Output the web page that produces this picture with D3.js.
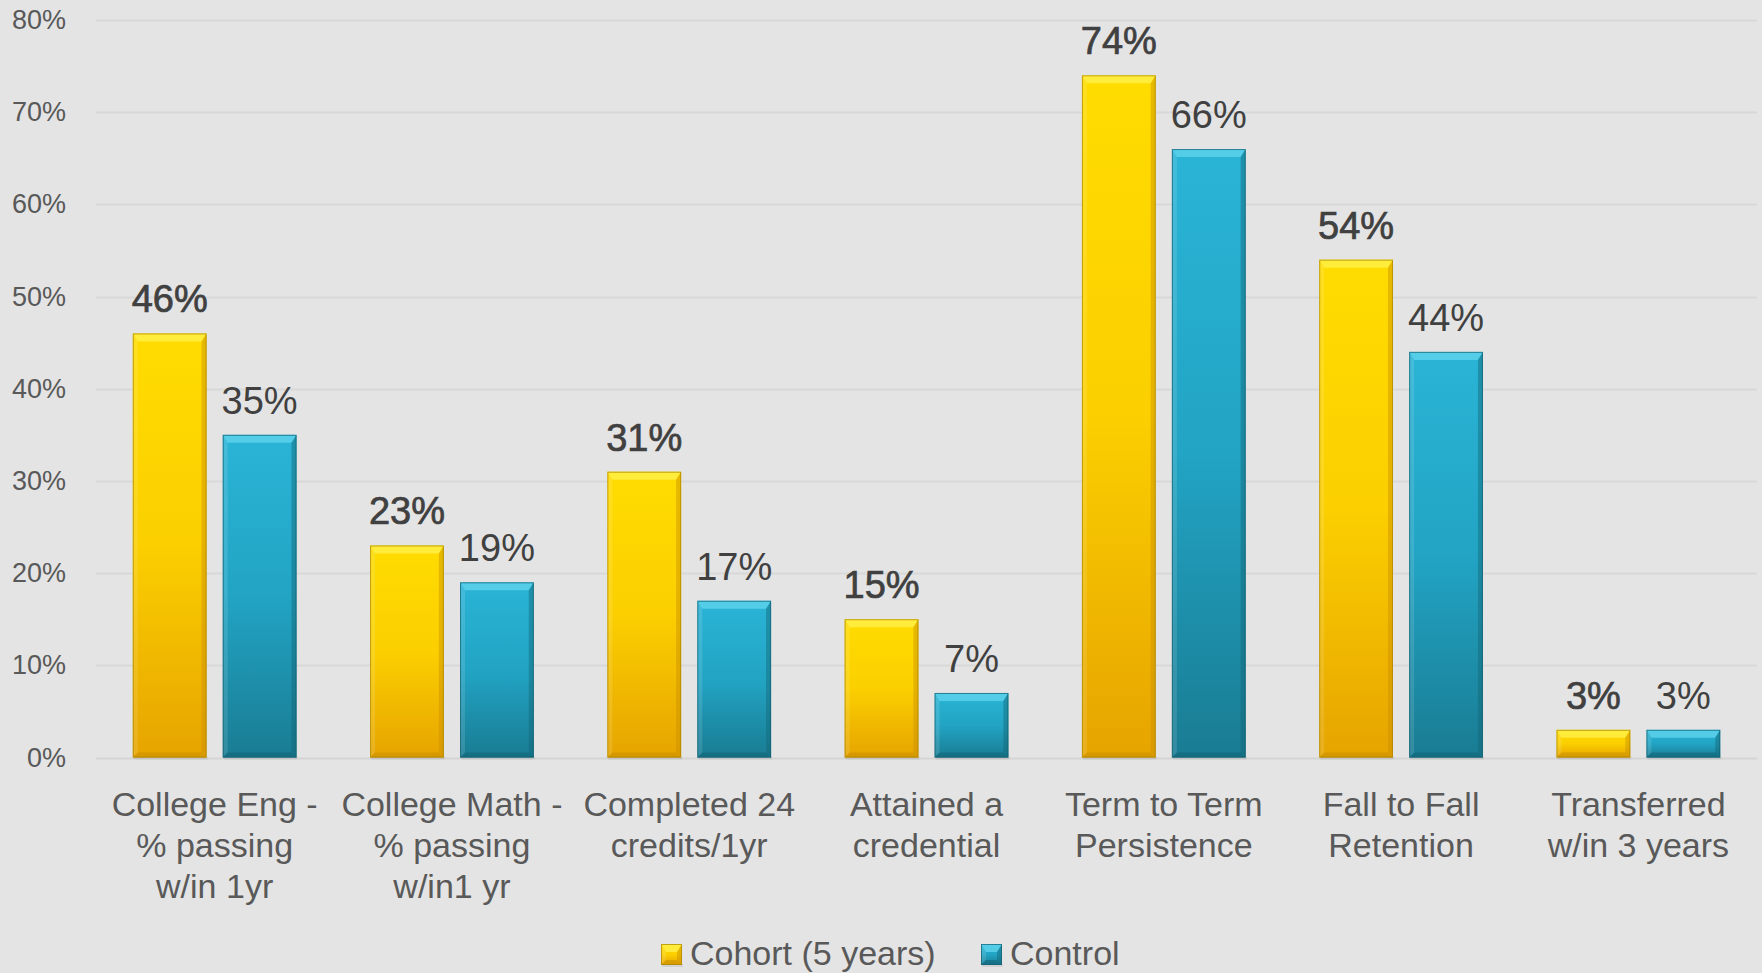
<!DOCTYPE html>
<html>
<head>
<meta charset="utf-8">
<script src="https://cdn.jsdelivr.net/npm/d3@7"></script>
<style>
  html, body { margin: 0; padding: 0; background: #e4e4e4; }
  svg { display: block; font-family: "Liberation Sans", Arial, sans-serif; }
</style>
</head>
<body>
<script>
(function (d3) {
  'use strict';

  const W = 1762, H = 973;
  const margin = {top: 20, right: 5, bottom: 215, left: 96};

  // data
  const categories = [
    ["College Eng -", "% passing", "w/in 1yr"],
    ["College Math -", "% passing", "w/in1 yr"],
    ["Completed 24", "credits/1yr"],
    ["Attained a", "credential"],
    ["Term to Term", "Persistence"],
    ["Fall to Fall", "Retention"],
    ["Transferred", "w/in 3 years"]
  ];
  const series = ["Cohort (5 years)", "Control"];
  const cohort = [46, 23, 31, 15, 74, 54, 3];
  const control = [35, 19, 17, 7, 66, 44, 3];
  const yTicks = [0, 10, 20, 30, 40, 50, 60, 70, 80];

  const catKeys = categories.map(c => c.join(" "));
  const data = catKeys.map((k, i) => ({key: k, lines: categories[i], values: [cohort[i], control[i]]}));

  const palette = {
    "Cohort (5 years)": {top: "#ffdc00", mid: "#fbcf00", bot: "#e6a400", stroke: "#a88400", hi: "#fff04a", dark: "#c98f00"},
    "Control": {top: "#2ab4d6", mid: "#22a4c4", bot: "#197c93", stroke: "#14606f", hi: "#5fd3ee", dark: "#136576"}
  };

  const svg = d3.select("body").append("svg")
    .attr("width", W).attr("height", H);

  const defs = svg.append("defs");
  series.forEach((s, i) => {
    const g = defs.append("linearGradient")
      .attr("id", "grad" + i)
      .attr("x1", 0).attr("y1", 0).attr("x2", 0).attr("y2", 1);
    g.append("stop").attr("offset", "0%").attr("stop-color", palette[s].top);
    g.append("stop").attr("offset", "50%").attr("stop-color", palette[s].mid);
    g.append("stop").attr("offset", "100%").attr("stop-color", palette[s].bot);
  });

  svg.append("rect").attr("width", W).attr("height", H).attr("fill", "#e4e4e4");

  const x0 = d3.scaleBand()
    .domain(catKeys)
    .range([margin.left, W - margin.right])
    .paddingInner(0.31)
    .paddingOuter(0.155);

  const x1 = d3.scaleBand()
    .domain(series)
    .range([0, x0.bandwidth()])
    .paddingInner(0.18);

  const y = d3.scaleLinear()
    .domain([0, 80])
    .range([H - margin.bottom - 0.5, margin.top]);

  // gridlines
  svg.append("g")
    .selectAll("line")
    .data(yTicks)
    .join("line")
      .attr("x1", margin.left)
      .attr("x2", W - margin.right)
      .attr("y1", d => Math.round(y(d)) + 0.5)
      .attr("y2", d => Math.round(y(d)) + 0.5)
      .attr("stroke", d => d === 0 ? "#d4d4d4" : "#d8d8d8")
      .attr("stroke-width", 2);

  // y axis labels
  svg.append("g")
    .selectAll("text")
    .data(yTicks)
    .join("text")
      .attr("x", 66)
      .attr("y", d => y(d) + 9)
      .attr("text-anchor", "end")
      .attr("font-size", 27)
      .attr("fill", "#595959")
      .text(d => d + "%");

  // bevelled bar
  function drawBar(g, bx, by, bw, bh, s, i) {
    const p = palette[s];
    const bv = Math.min(8, bh / 2.2);
    const sv = Math.min(5, bw / 4);
    // shadow
    g.append("rect")
      .attr("x", bx + 1).attr("y", by + bh - 1)
      .attr("width", bw).attr("height", 3)
      .attr("fill", "#000").attr("opacity", 0.08);
    g.append("rect")
      .attr("x", bx).attr("y", by)
      .attr("width", bw).attr("height", bh)
      .attr("fill", `url(#grad${i})`);
    // top bevel
    g.append("polygon")
      .attr("points", [[bx, by], [bx + bw, by], [bx + bw - sv, by + bv], [bx + sv, by + bv]].join(" "))
      .attr("fill", p.hi).attr("opacity", 0.8);
    // left bevel
    g.append("polygon")
      .attr("points", [[bx, by], [bx + sv, by + bv], [bx + sv, by + bh - sv], [bx, by + bh]].join(" "))
      .attr("fill", "#fff").attr("opacity", 0.12);
    // right bevel
    g.append("polygon")
      .attr("points", [[bx + bw, by], [bx + bw - sv, by + bv], [bx + bw - sv, by + bh - sv], [bx + bw, by + bh]].join(" "))
      .attr("fill", p.dark).attr("opacity", 0.45);
    // bottom bevel
    g.append("polygon")
      .attr("points", [[bx, by + bh], [bx + sv, by + bh - sv], [bx + bw - sv, by + bh - sv], [bx + bw, by + bh]].join(" "))
      .attr("fill", p.dark).attr("opacity", 0.55);
    g.append("rect")
      .attr("x", bx + 0.5).attr("y", by + 0.5)
      .attr("width", bw - 1).attr("height", bh - 1)
      .attr("fill", "none")
      .attr("stroke", p.stroke).attr("stroke-width", 1).attr("opacity", 0.7);
  }

  const groups = svg.append("g")
    .selectAll("g")
    .data(data)
    .join("g")
      .attr("transform", d => `translate(${x0(d.key)},0)`);

  groups.each(function (d) {
    const g = d3.select(this);
    series.forEach((s, i) => {
      const v = d.values[i];
      const bx = x1(s), bw = x1.bandwidth();
      const by = y(v), bh = y(0) - y(v);
      drawBar(g, bx, by, bw, bh, s, i);
      // cohort labels are semi-bold: regular face with a thin stroke
      g.append("text")
        .attr("x", bx + bw / 2)
        .attr("y", by - 21)
        .attr("text-anchor", "middle")
        .attr("font-size", 38)
        .attr("fill", "#404040")
        .attr("stroke", i === 0 ? "#404040" : "none")
        .attr("stroke-width", i === 0 ? 0.7 : 0)
        .text(v + "%");
    });
  });

  // category labels
  groups.append("text")
    .attr("text-anchor", "middle")
    .attr("font-size", 34)
    .attr("fill", "#595959")
    .selectAll("tspan")
    .data(d => d.lines)
    .join("tspan")
      .attr("x", x0.bandwidth() / 2)
      .attr("y", (d, i) => y(0) + 58 + i * 41)
      .text(d => d);

  // legend
  const legend = svg.append("g");
  const legendPos = [661, 981];
  series.forEach((s, i) => {
    const lg = legend.append("g").attr("transform", `translate(${legendPos[i]},944)`);
    drawBar(lg, 0, 0, 21, 21, s, i);
    lg.append("text")
      .attr("x", 29)
      .attr("y", 21)
      .attr("font-size", 34)
      .attr("fill", "#595959")
      .text(s);
  });

}(d3));
</script>
</body>
</html>
